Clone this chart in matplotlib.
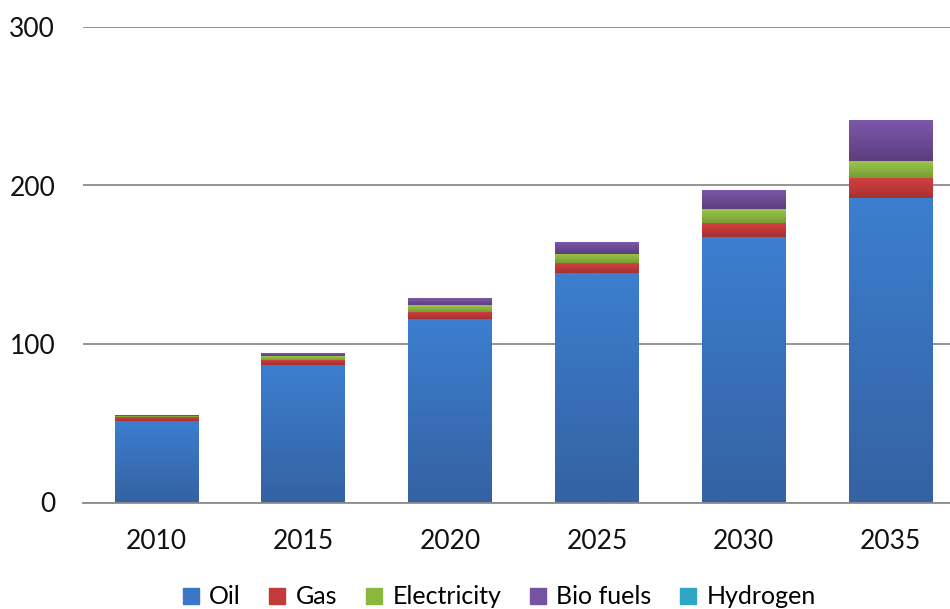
import matplotlib
matplotlib.use("Agg")
import matplotlib.pyplot as plt
from matplotlib.lines import Line2D
from matplotlib.colors import to_rgb
import numpy as np

years = ["2010", "2015", "2020", "2025", "2030", "2035"]
oil = [51.5, 86.5, 115.6, 144.5, 167.6, 192.2]
gas = [2.3, 3.6, 4.6, 6.3, 8.8, 12.5]
electricity = [1.0, 2.3, 4.2, 5.9, 8.7, 10.7]
biofuels = [0.6, 1.5, 3.8, 7.3, 11.8, 25.3]
hydrogen = [0, 0, 0, 0, 0, 0]

# name, values, legend colour, gradient top, gradient bottom
series = [("Oil", oil, "#3a78c6", "#3c7ecf", "#3462a2"),
          ("Gas", gas, "#c23a3a", "#d4403f", "#a63131"),
          ("Electricity", electricity, "#8ab83e", "#9cc64a", "#769d34"),
          ("Bio fuels", biofuels, "#7453a1", "#7d57aa", "#5c3e7e"),
          ("Hydrogen", hydrogen, "#2ea6c6", "#35b0d0", "#2888a3")]

plt.rcParams['font.family'] = ['Lato', 'DejaVu Sans']
fig = plt.figure(figsize=(9.5, 6.09), dpi=100)
ax = fig.add_axes([83/950, 1-502.5/609, (964-83)/950, (502.5-27)/609])

x = np.arange(len(years))
bottom = np.zeros(len(years))
for name, vals, col, ctop, cbot in series:
    bars = ax.bar(x, vals, bottom=bottom, width=0.57, color=col, label=name, zorder=3)
    for p in bars:
        h = p.get_height()
        if h <= 0:
            continue
        x0, y0, w = p.get_x(), p.get_y(), p.get_width()
        t = np.linspace(0, 1, 64)[:, None]
        a, b = np.array(to_rgb(cbot)), np.array(to_rgb(ctop))
        img = (a[None, :] * (1 - t) + b[None, :] * t)[:, None, :]
        ax.imshow(img, extent=(x0, x0 + w, y0, y0 + h), origin="lower",
                  aspect="auto", zorder=4, interpolation="bilinear")
    bottom += np.array(vals)

ax.set_xlim(-0.5, 5.5)
ax.set_ylim(0, 300)
ax.set_yticks([0, 100, 200, 300])
ax.set_xticks(x)
ax.set_xticklabels(years)
ax.yaxis.grid(True, color="#8c8c8c", linewidth=1.3, zorder=0)
for s in ["top", "right", "left"]:
    ax.spines[s].set_visible(False)
ax.spines["bottom"].set_color("#8c8c8c")
ax.spines["bottom"].set_linewidth(1.3)
ax.spines["bottom"].set_zorder(5)
ax.tick_params(axis="both", length=0, labelsize=19, colors="#111111")
ax.tick_params(axis="y", pad=20)
ax.tick_params(axis="x", pad=19)

handles = [Line2D([0], [0], marker="s", linestyle="none", markersize=11,
                  markerfacecolor=c, markeredgecolor=c) for _, _, c, _, _ in series]
fig.legend(handles, [n for n, *_ in series], loc="center", bbox_to_anchor=(497/950, 1-597/609),
           ncol=5, frameon=False, fontsize=18, handletextpad=0.25, columnspacing=0.95,
           handlelength=1.0)

fig.savefig("out.png", dpi=100)
